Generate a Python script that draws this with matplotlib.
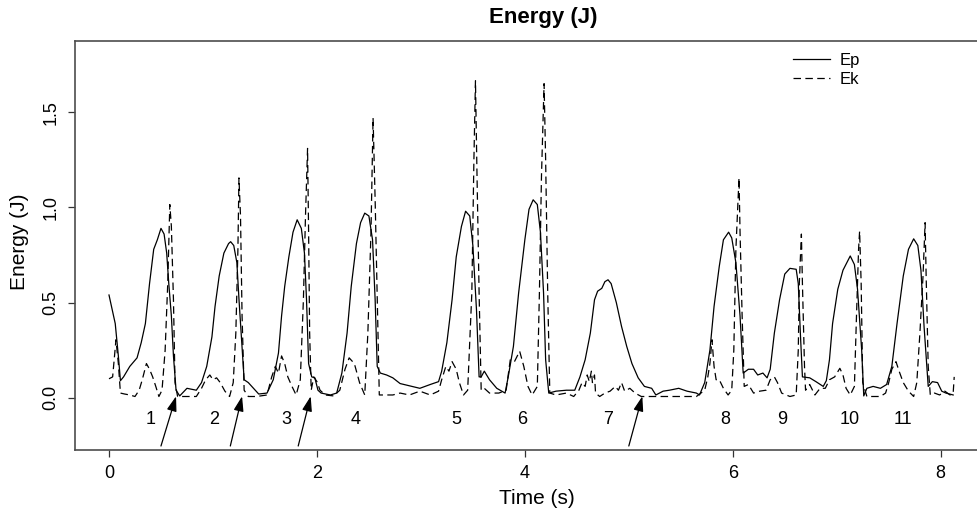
import numpy as np
import matplotlib.pyplot as plt

plt.rcParams['font.family'] = ['Liberation Sans', 'DejaVu Sans']

# potential energy (solid), time in s, energy in J
ep_t = [0.00, 0.06, 0.09, 0.11, 0.14, 0.20, 0.27, 0.31, 0.35, 0.39, 0.43, 0.465, 0.50, 0.53,
        0.555, 0.575, 0.60, 0.62, 0.645, 0.68, 0.75, 0.84, 0.89, 0.94, 0.99, 1.02, 1.06,
        1.105, 1.15, 1.17, 1.20, 1.23, 1.25, 1.275, 1.30, 1.34, 1.39, 1.44, 1.52, 1.58,
        1.63, 1.66, 1.69, 1.73, 1.77, 1.81, 1.85, 1.88, 1.90, 1.92, 1.95, 1.98, 2.01, 2.04,
        2.13, 2.19, 2.24, 2.29, 2.33, 2.38, 2.42, 2.46, 2.50, 2.535, 2.56, 2.58, 2.61, 2.67,
        2.73, 2.80, 2.89, 2.99, 3.09, 3.17, 3.20, 3.25, 3.30, 3.34, 3.39, 3.43, 3.47, 3.50,
        3.535, 3.56, 3.58, 3.61, 3.66, 3.73, 3.81, 3.84, 3.89, 3.94, 4.00, 4.04, 4.08, 4.12,
        4.15, 4.18, 4.20, 4.23, 4.30, 4.40, 4.48, 4.53, 4.58, 4.63, 4.67, 4.70, 4.74, 4.77,
        4.80, 4.83, 4.88, 4.93, 4.98, 5.03, 5.09, 5.15, 5.22, 5.26, 5.33, 5.39, 5.48, 5.56,
        5.65, 5.68, 5.73, 5.78, 5.82, 5.87, 5.91, 5.96, 5.99, 6.03, 6.07, 6.10, 6.15, 6.20,
        6.24, 6.29, 6.33, 6.36, 6.40, 6.45, 6.50, 6.55, 6.61, 6.63, 6.65, 6.67, 6.74, 6.80,
        6.87, 6.90, 6.93, 6.96, 7.01, 7.06, 7.13, 7.17, 7.20, 7.24, 7.26, 7.29, 7.35, 7.42,
        7.48, 7.53, 7.58, 7.64, 7.69, 7.74, 7.78, 7.81, 7.84, 7.88, 7.92, 7.97, 8.01, 8.05,
        8.12]
ep = [0.54, 0.39, 0.22, 0.09, 0.11, 0.165, 0.21, 0.29, 0.39, 0.60, 0.78, 0.83, 0.89, 0.86,
      0.76, 0.60, 0.43, 0.22, 0.04, 0.01, 0.05, 0.04, 0.08, 0.165, 0.32, 0.48, 0.64,
      0.76, 0.81, 0.82, 0.80, 0.71, 0.52, 0.305, 0.095, 0.08, 0.05, 0.02, 0.025, 0.095,
      0.235, 0.43, 0.585, 0.74, 0.87, 0.935, 0.89, 0.76, 0.515, 0.18, 0.11, 0.105, 0.04, 0.025,
      0.015, 0.025, 0.13, 0.34, 0.585, 0.81, 0.92, 0.97, 0.955, 0.83, 0.515, 0.165, 0.13, 0.12,
      0.105, 0.075, 0.063, 0.05, 0.07, 0.085, 0.14, 0.29, 0.515, 0.74, 0.90, 0.98, 0.955, 0.80,
      0.46, 0.11, 0.11, 0.14, 0.095, 0.05, 0.025, 0.11, 0.27, 0.55, 0.83, 0.99, 1.04, 1.015,
      0.87, 0.55, 0.20, 0.025, 0.035, 0.04, 0.04, 0.11, 0.20, 0.34, 0.515, 0.56, 0.575, 0.61,
      0.62, 0.60, 0.50, 0.375, 0.27, 0.18, 0.105, 0.06, 0.05, 0.015, 0.035, 0.04, 0.05, 0.035,
      0.025, 0.015, 0.08, 0.25, 0.48, 0.69, 0.83, 0.87, 0.84, 0.71, 0.43, 0.13, 0.15, 0.15,
      0.12, 0.13, 0.105, 0.15, 0.34, 0.515, 0.65, 0.68, 0.675, 0.60, 0.34, 0.11, 0.105, 0.085,
      0.06, 0.09, 0.20, 0.39, 0.57, 0.67, 0.745, 0.70, 0.57, 0.25, 0.01, 0.05, 0.06, 0.05,
      0.07, 0.165, 0.39, 0.64, 0.78, 0.835, 0.80, 0.67, 0.375, 0.06, 0.085, 0.08, 0.035, 0.025,
      0.015]

# kinetic energy (dashed)
ek_t = [0.00, 0.035, 0.067, 0.09, 0.11, 0.15, 0.20, 0.25, 0.29, 0.32, 0.36, 0.39, 0.42, 0.45,
        0.48, 0.51, 0.54, 0.565, 0.585, 0.60, 0.62, 0.635, 0.66, 0.75, 0.84, 0.89, 0.93, 0.97,
        1.00, 1.035, 1.07, 1.115, 1.16, 1.195, 1.22, 1.24, 1.25, 1.265, 1.28, 1.30, 1.34, 1.42,
        1.52, 1.565, 1.60, 1.63, 1.66, 1.69, 1.72, 1.76, 1.80, 1.84, 1.87, 1.89, 1.91, 1.92,
        1.93, 1.945, 1.97, 2.00, 2.03, 2.08, 2.16, 2.22, 2.27, 2.31, 2.36, 2.41, 2.46, 2.49,
        2.52, 2.54, 2.56, 2.58, 2.60, 2.64, 2.73, 2.80, 2.89, 2.99, 3.09, 3.17, 3.20, 3.24,
        3.27, 3.30, 3.34, 3.37, 3.41, 3.45, 3.49, 3.51, 3.525, 3.54, 3.56, 3.58, 3.61, 3.66,
        3.75, 3.82, 3.86, 3.90, 3.95, 3.99, 4.03, 4.07, 4.12, 4.14, 4.16, 4.185, 4.20, 4.22,
        4.24, 4.30, 4.40, 4.47, 4.52, 4.55, 4.58, 4.60, 4.62, 4.64, 4.65, 4.67, 4.68, 4.72,
        4.77, 4.82, 4.87, 4.90, 4.93, 4.96, 5.01, 5.06, 5.12, 5.20, 5.30, 5.43, 5.55, 5.65,
        5.73, 5.76, 5.78, 5.80, 5.82, 5.84, 5.87, 5.91, 5.955, 5.99, 6.01, 6.03, 6.06, 6.07,
        6.09, 6.11, 6.15, 6.20, 6.26, 6.32, 6.36, 6.40, 6.43, 6.47, 6.55, 6.61, 6.63, 6.64,
        6.66, 6.67, 6.69, 6.70, 6.74, 6.79, 6.84, 6.89, 6.93, 6.98, 7.03, 7.06, 7.09, 7.13,
        7.17, 7.19, 7.21, 7.22, 7.235, 7.25, 7.29, 7.35, 7.42, 7.47, 7.50, 7.53, 7.57, 7.60,
        7.64, 7.69, 7.74, 7.77, 7.80, 7.83, 7.85, 7.86, 7.88, 7.90, 7.94, 7.99, 8.04, 8.09,
        8.12, 8.13]
ek = [0.10, 0.11, 0.305, 0.18, 0.025, 0.02, 0.015, 0.007, 0.04, 0.095, 0.18, 0.15, 0.11, 0.06,
      0.007, 0.04, 0.25, 0.60, 1.015, 0.90, 0.515, 0.08, 0.007, 0.007, 0.007, 0.05, 0.095, 0.12,
      0.095, 0.105, 0.08, 0.035, 0.007, 0.08, 0.34, 0.78, 1.155, 0.955, 0.43, 0.04, 0.007, 0.007,
      0.015, 0.11, 0.165, 0.13, 0.22, 0.18, 0.11, 0.06, 0.015, 0.095, 0.515, 0.955, 1.31, 0.87,
      0.34, 0.04, 0.11, 0.085, 0.04, 0.015, 0.01, 0.04, 0.15, 0.21, 0.18, 0.08, 0.015, 0.34,
      0.87, 1.47, 1.04, 0.515, 0.015, 0.015, 0.015, 0.025, 0.015, 0.035, 0.015, 0.035, 0.095, 0.165,
      0.14, 0.19, 0.15, 0.08, 0.015, 0.04, 0.55, 1.25, 1.665, 1.165, 0.55, 0.04, 0.05, 0.025,
      0.025, 0.04, 0.20, 0.19, 0.245, 0.165, 0.06, 0.015, 0.06, 0.55, 1.165, 1.65, 1.25, 0.55,
      0.025, 0.015, 0.025, 0.007, 0.04, 0.08, 0.06, 0.12, 0.085, 0.14, 0.08, 0.12, 0.025, 0.007,
      0.025, 0.035, 0.06, 0.04, 0.08, 0.035, 0.05, 0.025, 0.007, 0.007, 0.007, 0.007, 0.007, 0.007,
      0.04, 0.11, 0.18, 0.305, 0.165, 0.095, 0.095, 0.05, 0.015, 0.04, 0.25, 0.78, 1.155, 0.87,
      0.43, 0.06, 0.07, 0.025, 0.035, 0.04, 0.095, 0.11, 0.08, 0.025, 0.007, 0.015, 0.25, 0.60,
      0.86, 0.60, 0.165, 0.04, 0.07, 0.015, 0.05, 0.05, 0.095, 0.11, 0.155, 0.12, 0.05, 0.015,
      0.06, 0.43, 0.78, 0.875, 0.60, 0.08, 0.007, 0.007, 0.007, 0.025, 0.08, 0.15, 0.19, 0.14,
      0.08, 0.035, 0.007, 0.08, 0.34, 0.64, 0.92, 0.64, 0.165, 0.015, 0.025, 0.015, 0.035, 0.015,
      0.025, 0.11]

# cycle numbers under the curve
cycle_labels = ['1', '2', '3', '4', '5', '6', '7', '8', '9', '10', '11']
cycle_t = [0.40, 1.01, 1.71, 2.37, 3.34, 3.97, 4.80, 5.93, 6.48, 7.12, 7.64]
cycle_y = -0.116

# arrows (tail -> head)
arrow_tail_t = [0.50, 1.167, 1.82, 5.00]
arrow_head_t = [0.645, 1.28, 1.94, 5.13]
arrow_tail_y = -0.253
arrow_head_y = 0.008

fig = plt.figure(figsize=(9.78, 5.09), dpi=100)
# right side of the box runs off the picture like in the original
ax = fig.add_axes([75 / 978, 1 - 450 / 509, (988 - 75) / 978, (450 - 41) / 509])

ax.plot(ep_t, ep, color='black', lw=0.9, label='Ep')
ax.plot(ek_t, ek, color='black', lw=0.9, dashes=(6, 3.5), label='Ek')

for lab, t in zip(cycle_labels, cycle_t):
    ax.text(t, cycle_y, lab, ha='center', va='center', fontsize=13)

for t0, t1 in zip(arrow_tail_t, arrow_head_t):
    ax.annotate('', xy=(t1, arrow_head_y), xytext=(t0, arrow_tail_y),
                arrowprops=dict(arrowstyle='-|>,head_length=0.9,head_width=0.3',
                                color='black', lw=0.9, shrinkA=0, shrinkB=0))

ax.set_xlim(-0.327, 8.455)
ax.set_ylim(-0.274, 1.874)
ax.set_xticks([0, 2, 4, 6, 8])
ax.set_yticks([0.0, 0.5, 1.0, 1.5])
ax.set_yticklabels(['0.0', '0.5', '1.0', '1.5'], rotation=90, va='center')
ax.tick_params(length=5, width=0.9, labelsize=13, pad=6, color='0.2')
for s in ax.spines.values():
    s.set_color('0.3')
    s.set_linewidth(1.2)

leg = ax.legend(loc='upper left', bbox_to_anchor=((793 - 75) / 913, 1 - (53 - 41) / 409),
                frameon=False, fontsize=12, handlelength=2.2, handletextpad=0.6,
                labelspacing=0.25, borderaxespad=0, borderpad=0)

fig.text(543 / 978, 1 - 18 / 509, 'Energy (J)', ha='center', va='center',
         fontsize=16, fontweight='bold')
fig.text(537 / 978, 1 - 498 / 509, 'Time (s)', ha='center', va='center', fontsize=15)
fig.text(20 / 978, 1 - 242 / 509, 'Energy (J)', ha='center', va='center',
         fontsize=15, rotation=90)

fig.savefig('out.png', dpi=100)
